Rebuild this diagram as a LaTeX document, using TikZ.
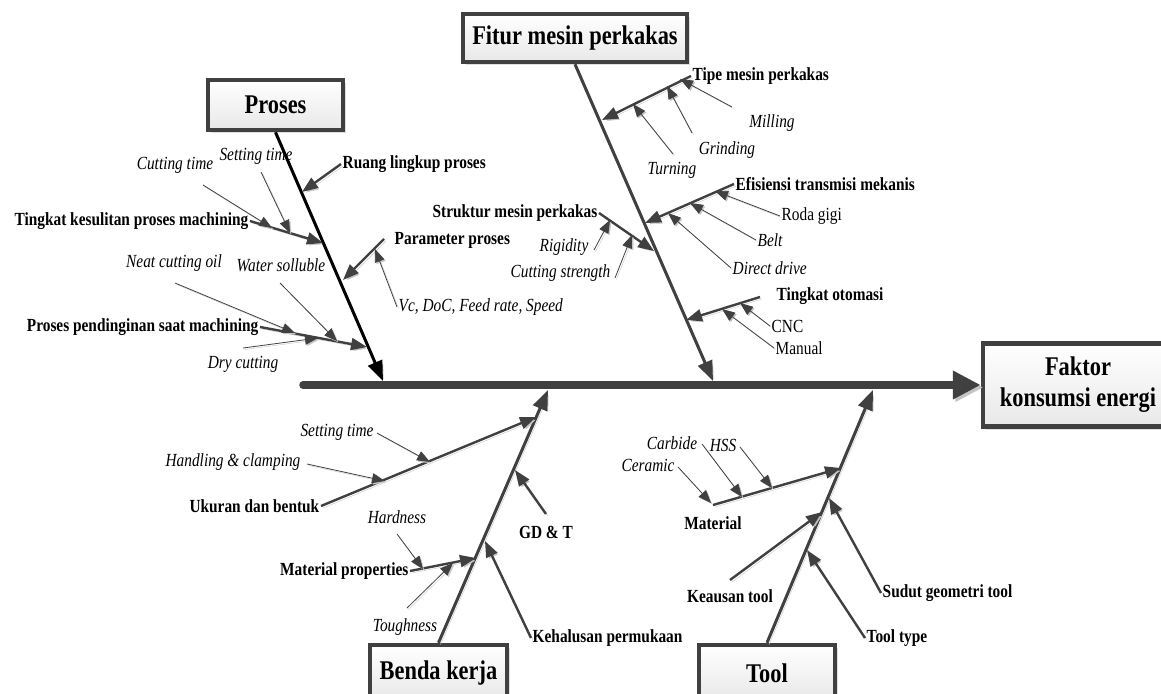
\documentclass[tikz,border=0pt]{standalone}
\usepackage{fontspec}
\setmainfont{Liberation Serif}
\newfontfamily\condfont{Liberation Serif}[FakeStretch=0.83]
\usetikzlibrary{arrows.meta,shadows}
\definecolor{bonegray}{HTML}{404040}
\definecolor{shadegray}{HTML}{C4C4C4}

\begin{document}
\begin{tikzpicture}[x=1pt,y=-1pt,
  castshadow/.style={preaction={draw=shadegray,transform canvas={shift={(#1,-#1)}}}},
  castshadow/.default=2pt,
  spine/.style={line width=7.5pt,draw=bonegray,line cap=round,-{Triangle[length=28pt,width=27pt]},castshadow=2.5pt},
  bone/.style={line width=3pt,draw=bonegray,-{Triangle[length=20pt,width=15pt]},castshadow},
  sub/.style={line width=2.4pt,draw=bonegray,-{Triangle[length=16pt,width=12pt]},castshadow},
  leaf/.style={line width=0.8pt,draw=bonegray,-{Triangle[length=13pt,width=10pt]},castshadow=1.5pt},
  title/.style={draw=bonegray,line width=4.5pt,top color=white,bottom color=gray!18,
    font=\condfont\bfseries\fontsize{27}{31}\selectfont,align=center,inner sep=3pt,
    drop shadow={shadow xshift=3pt,shadow yshift=-3pt,fill=gray!50}},
  lab/.style={font=\condfont\bfseries\fontsize{18.5}{20}\selectfont,inner sep=1.5pt},
  itl/.style={font=\condfont\itshape\fontsize{18.5}{20}\selectfont,inner sep=1.5pt},
  rom/.style={font=\condfont\fontsize{18.5}{20}\selectfont,inner sep=1.5pt}]
\useasboundingbox (0,0) rectangle (1161,693);

% head and categories
\node[title,minimum width=190pt,minimum height=83pt] (fk) at (1078,385) {Faktor\\konsumsi energi};
\node[title,minimum width=135pt,minimum height=50pt] (pr) at (275.5,105) {Proses};
\node[title,minimum width=224pt,minimum height=48pt] (fi) at (575,38) {Fitur mesin perkakas};
\node[title,minimum width=137pt,minimum height=56pt] (bk) at (438.5,673) {Benda kerja};
\node[title,minimum width=136pt,minimum height=56pt] (tl) at (767,673) {Tool};

\coordinate (sp0) at (303,385);
\coordinate (prE) at (383,381);
\coordinate (fiE) at (713,381);
\coordinate (bkE) at (548,390);
\coordinate (tlE) at (873,390);
\draw[spine] (sp0) -- (fk.west);
\draw[bone,draw=black] (pr.south) -- (prE);
\draw[bone] (fi.south) -- (fiE);
\draw[bone] (bk.north) -- (bkE);
\draw[bone] (tl.north) -- (tlE);

% Proses
\node[lab,anchor=west] (rl) at (341,164) {Ruang lingkup proses};
\coordinate (rlE) at (302,192);
\draw[sub] (rl.west) -- (rlE);
\node[lab,anchor=east] (tk) at (250,221) {Tingkat kesulitan proses machining};
\coordinate (tkE) at (323,243);
\draw[sub] (tk.east) -- (tkE);
\node[itl] (ct) at (175,165) {Cutting time};
\coordinate (ct0) at (203,185);
\coordinate (ctE) at (272,228);
\draw[leaf] (ct0) -- (ctE);
\node[itl] (st) at (256,156) {Setting time};
\coordinate (st0) at (261,172);
\coordinate (stE) at (290,233);
\draw[leaf] (st0) -- (stE);
\node[lab,anchor=west] (pp) at (393,240) {Parameter proses};
\coordinate (pp0) at (384,239);
\coordinate (ppE) at (343,280);
\draw[sub] (pp0) -- (ppE);
\node[itl,anchor=west] (vc) at (397,307) {Vc, DoC, Feed rate, Speed};
\coordinate (vcE) at (375,249);
\draw[leaf] (vc.west) -- (vcE);
\node[lab,anchor=east] (pd) at (260,327) {Proses pendinginan saat machining};
\coordinate (pdE) at (367,347);
\draw[sub] (pd.east) -- (pdE);
\node[itl] (nc) at (174,263) {Neat cutting oil};
\coordinate (nc0) at (175,283);
\coordinate (ncE) at (295,333);
\draw[leaf] (nc0) -- (ncE);
\node[itl] (ws) at (281,265) {Water solluble};
\coordinate (ws0) at (280,283);
\coordinate (wsE) at (337,341);
\draw[leaf] (ws0) -- (wsE);
\node[itl] (dc) at (243,364) {Dry cutting};
\coordinate (dc0) at (243,348);
\coordinate (dcE) at (318,338);
\draw[leaf] (dc0) -- (dcE);

% Fitur mesin perkakas
\node[lab,anchor=west] (tm) at (691,76) {Tipe mesin perkakas};
\coordinate (tmE) at (602,120);
\draw[sub] (tm.west) -- (tmE);
\node[itl] (tu) at (672,170) {Turning};
\coordinate (tu0) at (673,154);
\coordinate (tuE) at (633,104);
\draw[leaf] (tu0) -- (tuE);
\node[itl] (gr) at (727,150) {Grinding};
\coordinate (gr0) at (692,133);
\coordinate (grE) at (667,86);
\draw[leaf] (gr0) -- (grE);
\node[itl] (mi) at (772,123) {Milling};
\coordinate (mi0) at (732,107);
\coordinate (miE) at (680,79);
\draw[leaf] (mi0) -- (miE);
\node[lab,anchor=west] (ef) at (734,184) {Efisiensi transmisi mekanis};
\coordinate (efE) at (645,223);
\draw[sub] (ef.west) -- (efE);
\node[rom,anchor=west] (rg) at (780,216) {Roda gigi};
\coordinate (rgE) at (715,191);
\draw[leaf] (rg.west) -- (rgE);
\node[itl,anchor=west] (be) at (756,240) {Belt};
\coordinate (beE) at (690,203);
\draw[leaf] (be.west) -- (beE);
\node[itl,anchor=west] (dd) at (731,268) {Direct drive};
\coordinate (ddE) at (668,213);
\draw[leaf] (dd.west) -- (ddE);
\node[lab,anchor=east] (sm) at (599,213) {Struktur mesin perkakas};
\coordinate (smE) at (654,251);
\draw[sub] (sm.east) -- (smE);
\node[itl,anchor=east] (ri) at (590,247) {Rigidity};
\coordinate (ri0) at (594,250);
\coordinate (riE) at (610,220);
\draw[leaf] (ri0) -- (riE);
\node[itl,anchor=east] (cs) at (612,273) {Cutting strength};
\coordinate (cs0) at (615,278);
\coordinate (csE) at (632,235);
\draw[leaf] (cs0) -- (csE);
\node[lab,anchor=west] (ot) at (775,296) {Tingkat otomasi};
\coordinate (ot0) at (760,297);
\coordinate (otE) at (686,320);
\draw[sub] (ot0) -- (otE);
\node[rom,anchor=west] (cn) at (770,326) {CNC};
\coordinate (cnE) at (740,303);
\draw[leaf] (cn.west) -- (cnE);
\node[rom,anchor=west] (ma) at (774,348) {Manual};
\coordinate (maE) at (722,309);
\draw[leaf] (ma.west) -- (maE);

% Benda kerja
\node[lab,anchor=east] (ub) at (321,506) {Ukuran dan bentuk};
\coordinate (ubE) at (536,417);
\draw[sub] (ub.east) -- (ubE);
\node[itl] (sb) at (337,432) {Setting time};
\coordinate (sb0) at (377,433);
\coordinate (sbE) at (430,462);
\draw[leaf] (sb0) -- (sbE);
\node[itl] (hc) at (233,462) {Handling \& clamping};
\coordinate (hc0) at (307,464);
\coordinate (hcE) at (385,481);
\draw[leaf] (hc0) -- (hcE);
\node[lab] (gd) at (546,532) {GD \& T};
\coordinate (gd0) at (546,514);
\coordinate (gdE) at (515,470);
\draw[sub] (gd0) -- (gdE);
\node[lab,anchor=east] (mp) at (410,571) {Material properties};
\coordinate (mpE) at (476,558);
\draw[sub] (mp.east) -- (mpE);
\node[itl] (ha) at (397,517) {Hardness};
\coordinate (ha0) at (397,534);
\coordinate (haE) at (423,569);
\draw[leaf] (ha0) -- (haE);
\node[itl] (tg) at (405,627) {Toughness};
\coordinate (tg0) at (407,608);
\coordinate (tgE) at (453,563);
\draw[leaf] (tg0) -- (tgE);
\node[lab,anchor=west] (kp) at (531,638) {Kehalusan permukaan};
\coordinate (kpE) at (485,541);
\draw[sub] (kp.west) -- (kpE);

% Tool
\node[lab] (mt) at (713,523) {Material};
\coordinate (mt0) at (713,505);
\coordinate (mtE) at (841,468);
\draw[sub] (mt0) -- (mtE);
\node[itl] (ce) at (648,465) {Ceramic};
\coordinate (ce0) at (678,467);
\coordinate (ceE) at (711,503);
\draw[leaf] (ce0) -- (ceE);
\node[itl] (ca) at (672,443) {Carbide};
\coordinate (ca0) at (702,444);
\coordinate (caE) at (742,497);
\draw[leaf] (ca0) -- (caE);
\node[itl] (hs) at (723,445) {HSS};
\coordinate (hs0) at (740,447);
\coordinate (hsE) at (772,488);
\draw[leaf] (hs0) -- (hsE);
\node[lab] (ka) at (730,596) {Keausan tool};
\coordinate (ka0) at (730,580);
\coordinate (kaE) at (822,512);
\draw[sub] (ka0) -- (kaE);
\node[lab,anchor=west] (sg) at (881,593) {Sudut geometri tool};
\coordinate (sgE) at (829,498);
\draw[sub] (sg.west) -- (sgE);
\node[lab,anchor=west] (tt) at (865,638) {Tool type};
\coordinate (ttE) at (807,550);
\draw[sub] (tt.west) -- (ttE);
\end{tikzpicture}
\end{document}
